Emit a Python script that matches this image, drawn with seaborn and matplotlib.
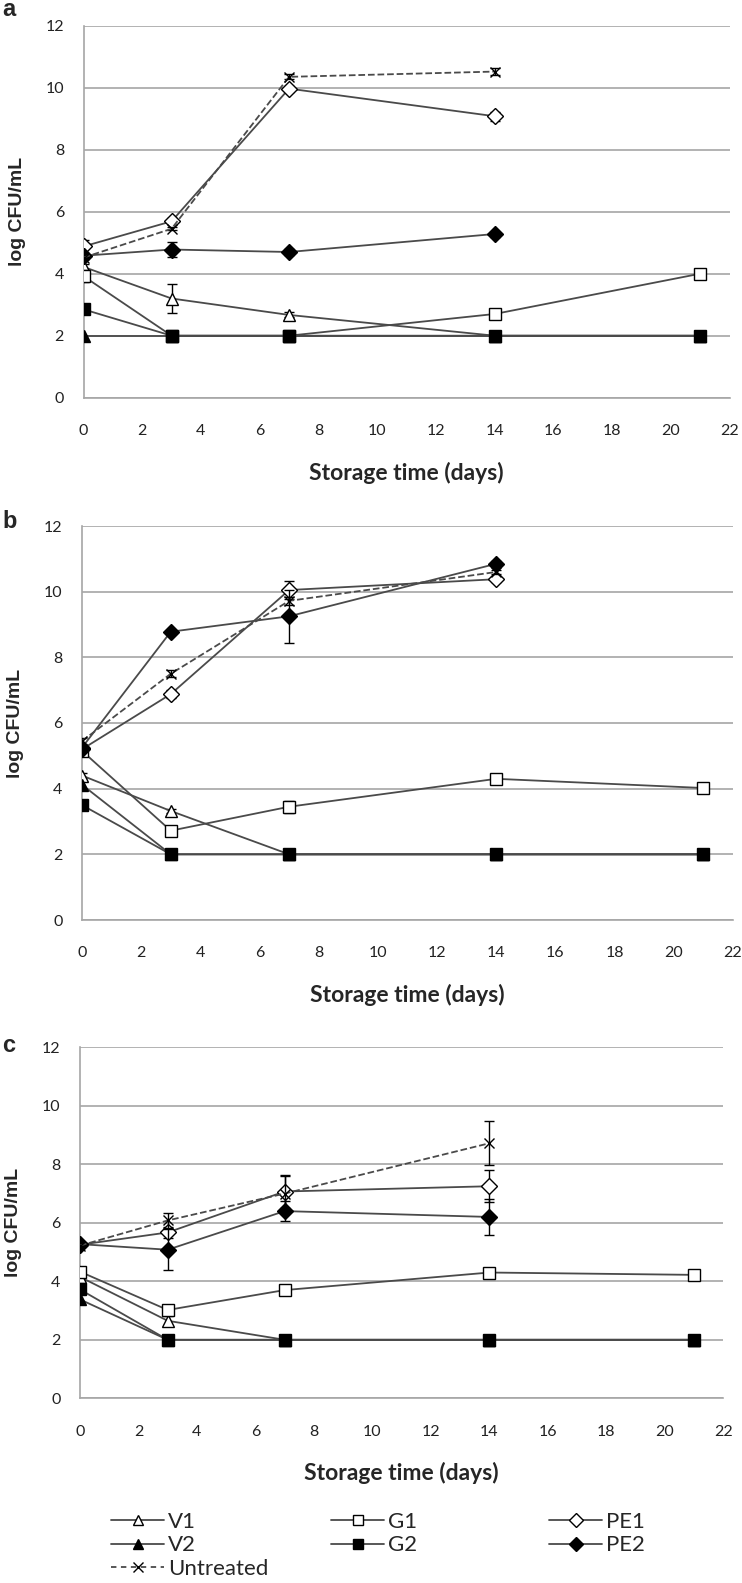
import numpy as np
import pandas as pd
import matplotlib
matplotlib.use("Agg")
import matplotlib.pyplot as plt
from matplotlib.lines import Line2D
import seaborn as sns

# ── data ─────────────────────────────────────────────────────────────────────
days = [0, 3, 7, 14, 21]
days_short = [0, 3, 7, 14]

a_v1 = [4.22, 3.20, 2.67, 2.0, 2.0]
a_v1_err = [0.10, 0.48, 0.08, 0.0, 0.0]
a_v2 = [2.0, 2.0, 2.0, 2.0, 2.0]
a_g1 = [3.92, 2.0, 2.0, 2.70, 4.0]
a_g1_err = [0.20, 0.0, 0.0, 0.05, 0.05]
a_g2 = [2.85, 2.0, 2.0, 2.0, 2.0]
a_pe1 = [4.88, 5.69, 9.97, 9.08]
a_pe1_err = [0.20, 0.10, 0.10, 0.15]
a_pe2 = [4.58, 4.78, 4.70, 5.28]
a_pe2_err = [0.10, 0.25, 0.10, 0.08]
a_untr = [4.52, 5.45, 10.35, 10.52]
a_untr_err = [0.05, 0.05, 0.08, 0.10]

b_v1 = [4.40, 3.32, 2.0, 2.0, 2.0]
b_v1_err = [0.08, 0.05, 0.0, 0.0, 0.0]
b_v2 = [4.12, 2.0, 2.0, 2.0, 2.0]
b_g1 = [5.15, 2.72, 3.45, 4.30, 4.02]
b_g1_err = [0.10, 0.05, 0.18, 0.05, 0.05]
b_g2 = [3.50, 2.0, 2.0, 2.0, 2.0]
b_pe1 = [5.20, 6.88, 10.05, 10.38]
b_pe1_err = [0.05, 0.12, 0.27, 0.08]
b_pe2 = [5.25, 8.78, 9.25, 10.85]
b_pe2_err = [0.05, 0.05, 0.80, 0.08]
b_untr = [5.45, 7.50, 9.72, 10.60]
b_untr_err = [0.08, 0.10, 0.12, 0.05]

c_v1 = [4.15, 2.65, 2.0, 2.0, 2.0]
c_v1_err = [0.10, 0.15, 0.0, 0.0, 0.0]
c_v2 = [3.38, 2.0, 2.0, 2.0, 2.0]
c_g1 = [4.33, 3.02, 3.70, 4.30, 4.22]
c_g1_err = [0.08, 0.15, 0.05, 0.05, 0.05]
c_g2 = [3.72, 2.0, 2.0, 2.0, 2.0]
c_pe1 = [5.25, 5.67, 7.07, 7.25]
c_pe1_err = [0.05, 0.20, 0.57, 0.55]
c_pe2 = [5.27, 5.08, 6.40, 6.20]
c_pe2_err = [0.05, 0.70, 0.35, 0.60]
c_untr = [5.22, 6.08, 7.00, 8.72]
c_untr_err = [0.05, 0.27, 0.60, 0.76]

xticks = list(range(0, 23, 2))
yticks = list(range(0, 13, 2))

# ── style ─────────────────────────────────────────────────────────────────────
sns.set_style("white")
plt.rcParams["font.family"] = ["Lato", "DejaVu Sans"]

LINE = "#4a4a4a"
GRID = "#a6a6a6"

STYLES = {
    "V1": dict(marker="^", mfc="white", ms=9),
    "V2": dict(marker="^", mfc="black", ms=9),
    "G1": dict(marker="s", mfc="white", ms=8),
    "G2": dict(marker="s", mfc="black", ms=8),
    "PE1": dict(marker="D", mfc="white", ms=8),
    "PE2": dict(marker="D", mfc="black", ms=8),
    "Untreated": dict(marker="x", mfc="black", ms=7),
}

fig = plt.figure(figsize=(7.42, 15.83), dpi=100)
W, H = 742, 1583


def px_axes(left, right, top, bottom):
    return fig.add_axes([left / W, 1 - bottom / H, (right - left) / W, (bottom - top) / H])


def draw_series(ax, name, x, y, err, z):
    st = STYLES[name]
    dashed = name == "Untreated"
    if err is not None:
        ax.errorbar(x, y, yerr=err, fmt="none", ecolor="black", elinewidth=1.0,
                    capsize=3.5, capthick=1.0, zorder=z)
    sns.lineplot(x=x, y=y, ax=ax, color=LINE, linewidth=1.3,
                 linestyle="--" if dashed else "-",
                 marker=st["marker"], markersize=st["ms"],
                 markerfacecolor=st["mfc"], markeredgecolor="black",
                 markeredgewidth=1.0, zorder=z, legend=False)


def panel(ax, series):
    # Excel series order: later series are drawn on top
    for i, (name, x, y, err) in enumerate(series):
        draw_series(ax, name, x, y, err, 3 + i * 0.1)
    ax.set_xlim(0, 22)
    ax.set_ylim(0, 12)
    ax.set_xticks(xticks)
    ax.set_yticks(yticks)
    ax.yaxis.grid(True, color=GRID, linewidth=1.2)
    ax.set_axisbelow(True)
    for s in ["top", "right"]:
        ax.spines[s].set_visible(False)
    for s in ["left", "bottom"]:
        ax.spines[s].set_color(GRID)
        ax.spines[s].set_linewidth(1.2)
    ax.tick_params(axis="both", direction="out", length=6, width=1.2, color=GRID,
                   labelsize=11.5, labelcolor="#222222")
    ax.tick_params(axis="x", pad=13)
    ax.tick_params(axis="y", pad=8)
    ax.set_xlabel("Storage time (days)", fontsize=16.5, fontweight="bold", labelpad=17)
    ax.set_ylabel("log CFU/mL", fontsize=14, fontweight="bold",
                  family=["Liberation Sans", "DejaVu Sans"], labelpad=14)
    return ax


def series_list(v1, v1e, v2, g1, g1e, g2, pe1, pe1e, pe2, pe2e, un, une):
    return [
        ("V1", days, v1, v1e),
        ("V2", days, v2, None),
        ("G1", days, g1, g1e),
        ("G2", days, g2, None),
        ("PE1", days_short, pe1, pe1e),
        ("PE2", days_short, pe2, pe2e),
        ("Untreated", days_short, un, une),
    ]


panel(px_axes(83.5, 729.5, 25.7, 397.7),
      series_list(a_v1, a_v1_err, a_v2, a_g1, a_g1_err, a_g2,
                  a_pe1, a_pe1_err, a_pe2, a_pe2_err, a_untr, a_untr_err))
panel(px_axes(82, 733, 526, 920),
      series_list(b_v1, b_v1_err, b_v2, b_g1, b_g1_err, b_g2,
                  b_pe1, b_pe1_err, b_pe2, b_pe2_err, b_untr, b_untr_err))
panel(px_axes(80, 723.3, 1047.3, 1398.3),
      series_list(c_v1, c_v1_err, c_v2, c_g1, c_g1_err, c_g2,
                  c_pe1, c_pe1_err, c_pe2, c_pe2_err, c_untr, c_untr_err))

# panel letters
for letter, ypx in [("a", 9), ("b", 521), ("c", 1046)]:
    fig.text(2 / W, 1 - ypx / H, letter, fontsize=17, fontweight="bold",
             family=["Liberation Sans", "DejaVu Sans"], va="center", ha="left")


# ── legend: three columns placed under the bottom panel ──────────────────────
def handle(name):
    st = STYLES[name]
    ls = (0, (3, 2.5)) if name == "Untreated" else "-"
    return Line2D([], [], color=LINE, linewidth=1.3, linestyle=ls,
                  marker=st["marker"], markersize=7.5,
                  markerfacecolor=st["mfc"], markeredgecolor="black",
                  markeredgewidth=1.0)


columns = [(["V1", "V2", "Untreated"], 111), (["G1", "G2"], 331), (["PE1", "PE2"], 549)]
for names, xpx in columns:
    fig.legend([handle(n) for n in names], names, loc="upper left",
               bbox_to_anchor=(xpx / W, 1 - 1512 / H), frameon=False,
               fontsize=16, handlelength=2.4, handletextpad=0.15,
               labelspacing=0.15, borderpad=0, borderaxespad=0)

fig.savefig("out.png", dpi=100)
